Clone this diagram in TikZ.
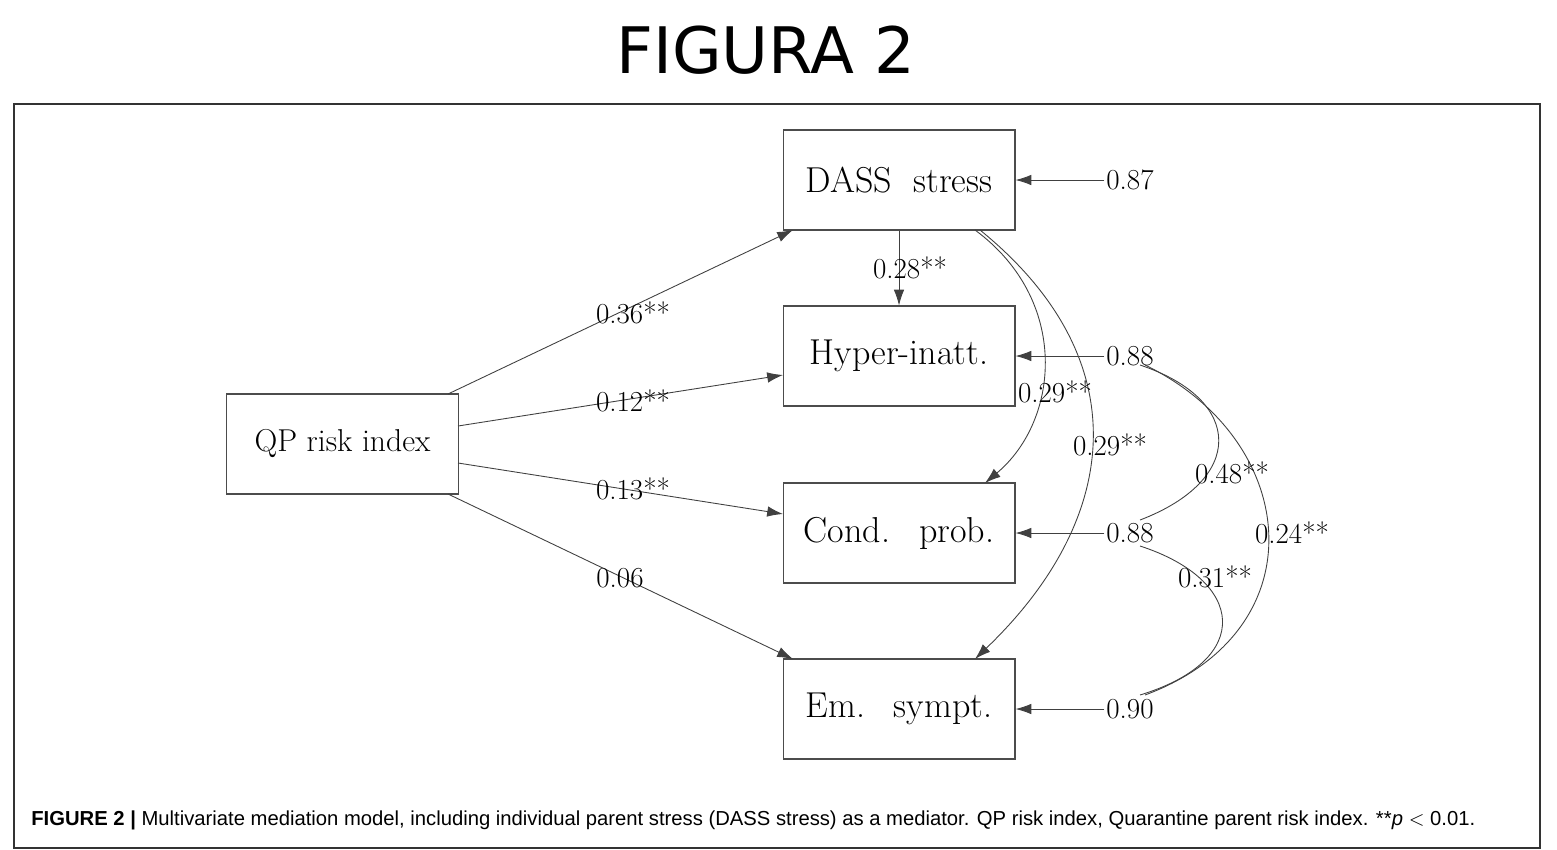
\documentclass[tikz,border=0pt]{standalone}
\usepackage{fontspec}
\newfontfamily\titlefont{DejaVu Sans}
\newfontfamily\capfont{Liberation Sans}
\usetikzlibrary{arrows.meta}
\begin{document}
\begin{tikzpicture}[x=0.02cm,y=-0.02cm,
  box/.style={draw=black!70,line width=0.6pt,minimum width=4.64cm,minimum height=2cm,inner sep=0pt,font=\fontsize{20.5}{24}\selectfont},
  lbl/.style={font=\fontsize{16.5}{19}\selectfont,inner sep=1pt},
  arr/.style={draw=black!75,line width=0.5pt,-{Latex[length=9pt,width=6pt]}},
  cov/.style={draw=black!75,line width=0.5pt}]
\useasboundingbox (0,0) rectangle (1557,849);
\node (title) at (766,50) {\titlefont\fontsize{36.5}{40}\selectfont FIGURA 2};
\draw[black!80,line width=0.6pt] (14,104) rectangle (1540,848);
\node (dass) at (899,180) [box] {DASS\hspace{0.3em} stress};
\node (hyp) at (899,356) [box] {Hyper-inatt.};
\node (cond) at (899,533) [box] {Cond.\hspace{0.4em} prob.};
\node (em) at (899,709) [box] {Em.\hspace{0.4em} sympt.};
\node (qp) at (342.5,444) [box,font=\fontsize{18}{22}\selectfont] {QP risk index};
% residual labels
\node (r1) at (1130,180) [lbl] {0.87};
\node (r2) at (1130,356) [lbl] {0.88};
\node (r3) at (1130,533) [lbl] {0.88};
\node (r4) at (1130,709) [lbl] {0.90};
\draw[arr] (r1.west) -- (dass.east);
\draw[arr] (r2.west) -- (hyp.east);
\draw[arr] (r3.west) -- (cond.east);
\draw[arr] (r4.west) -- (em.east);
% paths
\coordinate (q1) at (448,394); \coordinate (d1) at (793,230);
\coordinate (q2) at (458,426); \coordinate (h1) at (783,375);
\coordinate (q3) at (458,463); \coordinate (c1) at (783,514);
\coordinate (q4) at (448,494); \coordinate (e1) at (793,659);
\draw[arr] (q1) -- (d1);
\draw[arr] (q2) -- (h1);
\draw[arr] (q3) -- (c1);
\draw[arr] (q4) -- (e1);
\node[lbl] (l1) at (633,313) {0.36**};
\node[lbl] (l2) at (633,401) {0.12**};
\node[lbl] (l3) at (633,489) {0.13**};
\node[lbl] (l4) at (620,578) {0.06};
\draw[arr] (dass.south) -- (hyp.north);
\node[lbl] (l5) at (910,268) {0.28**};
\coordinate (ds1) at (975,230); \coordinate (ds2) at (980,230);
\coordinate (ce) at (985,483); \coordinate (ee) at (975,659);
\draw[arr] (ds1) .. controls (1070,300) and (1060,420) .. (ce);
\draw[arr] (ds2) .. controls (1140,360) and (1120,520) .. (ee);
\node[lbl] (l6) at (1055,392) {0.29**};
\node[lbl] (l7) at (1110,445) {0.29**};
% covariances
\coordinate (a1) at (1140,365); \coordinate (a1b) at (1145,365);
\coordinate (b1) at (1140,520); \coordinate (b2) at (1140,546);
\coordinate (c2) at (1140,695); \coordinate (c3) at (1145,695);
\draw[cov] (a1) .. controls (1245,400) and (1245,480) .. (b1);
\draw[cov] (a1b) .. controls (1300,440) and (1320,630) .. (c3);
\draw[cov] (b2) .. controls (1245,580) and (1255,660) .. (c2);
\node[lbl] (l8) at (1232,473) {0.48**};
\node[lbl] (l9) at (1292,533) {0.24**};
\node[lbl] (l10) at (1215,577) {0.31**};
\node[anchor=west,inner sep=0pt] (cap) at (31,820) {\resizebox{28.88cm}{!}{\capfont\textbf{FIGURE 2 |} Multivariate mediation model, including individual parent stress (DASS stress) as a mediator. QP risk index, Quarantine parent risk index. **\textit{p} $<$ 0.01.}};
\end{tikzpicture}
\end{document}
